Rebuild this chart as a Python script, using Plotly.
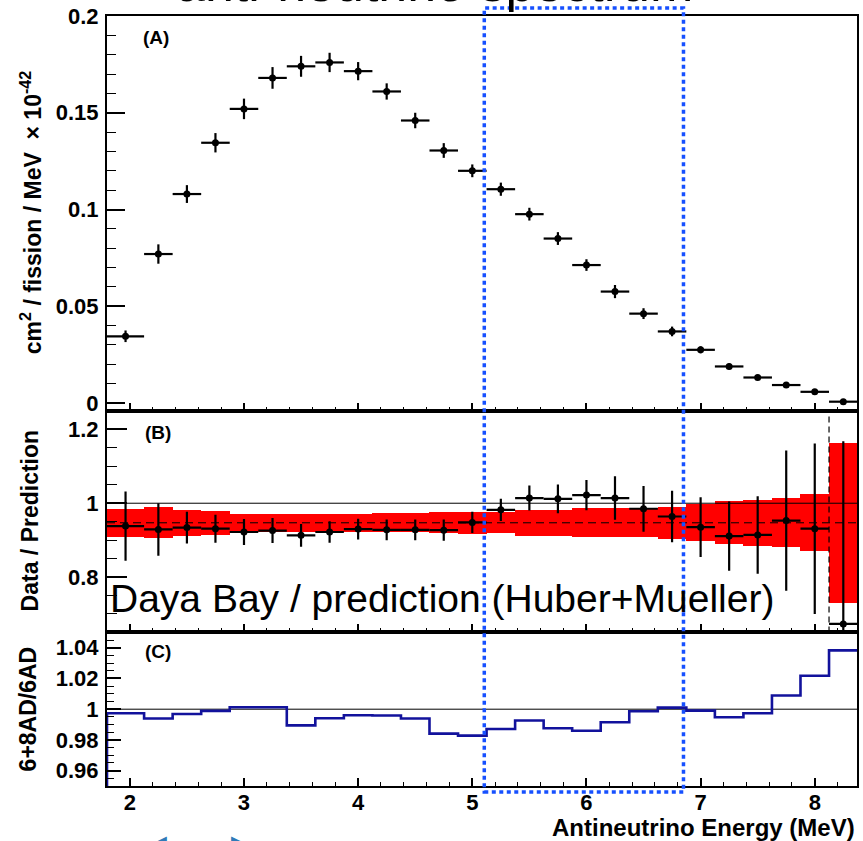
import plotly.graph_objects as go

# ---------------------------------------------------------------- data
# Energy bins (MeV); the last bin is drawn up to the edge of the frame
BIN_EDGES = [1.8, 2.125, 2.375, 2.625, 2.875, 3.125, 3.375, 3.625, 3.875,
             4.125, 4.375, 4.625, 4.875, 5.125, 5.375, 5.625, 5.875, 6.125,
             6.375, 6.625, 6.875, 7.125, 7.375, 7.625, 7.875, 8.125, 8.375]

# (A) IBD yield, cm^2 / fission / MeV x 1e-42
SPECTRUM = [0.0345, 0.077, 0.108, 0.1345, 0.152, 0.168, 0.174, 0.176,
            0.1715, 0.161, 0.146, 0.1305, 0.120, 0.1105, 0.0976, 0.085,
            0.0713, 0.0576, 0.0462, 0.037, 0.0275, 0.0189, 0.0132, 0.0093,
            0.0058, 0.0007]
SPECTRUM_ERR = [0.003, 0.005, 0.0046, 0.005, 0.0053, 0.0056, 0.0054, 0.005,
                0.0047, 0.0042, 0.004, 0.0038, 0.0033, 0.0034, 0.0033, 0.0033,
                0.003, 0.0034, 0.0028, 0.0025, 0.0018, 0.0015, 0.0012, 0.001,
                0.0008, 0.0006]

# (B) data / prediction
RATIO = [0.938, 0.929, 0.934, 0.931, 0.922, 0.926, 0.913, 0.922, 0.930,
         0.928, 0.928, 0.927, 0.948, 0.982, 1.014, 1.012, 1.022, 1.014,
         0.985, 0.964, 0.935, 0.911, 0.914, 0.953, 0.931, 0.673]
RATIO_ERR = [0.094, 0.071, 0.043, 0.038, 0.035, 0.034, 0.031, 0.029, 0.028,
             0.028, 0.028, 0.029, 0.029, 0.030, 0.034, 0.039, 0.041, 0.059,
             0.062, 0.070, 0.081, 0.094, 0.105, 0.190, 0.231, 0.495]
# prediction uncertainty band around the mean ratio
BAND_CENTER = 0.947
BAND_HALF = [0.0387, 0.0417, 0.036, 0.033, 0.0245, 0.0245, 0.0245, 0.0245,
             0.0245, 0.026, 0.026, 0.028, 0.0295, 0.0286, 0.0355, 0.0355,
             0.0395, 0.0395, 0.0395, 0.0436, 0.0505, 0.058, 0.0627, 0.0668,
             0.0773, 0.217]
REFERENCE = 1.0

# (C) 6+8AD / 6AD
AD_RATIO = [0.9974, 0.9939, 0.9969, 0.9989, 1.0013, 1.0013, 0.9895, 0.9941,
            0.9961, 0.9959, 0.9939, 0.9841, 0.9828, 0.9871, 0.9926, 0.9876,
            0.9860, 0.9915, 0.9987, 1.0010, 0.9991, 0.9948, 0.9974, 1.0089,
            1.0218, 1.0383]

# highlighted energy window (MeV)
WINDOW = (5.105, 6.85)

X_RANGE = [1.8, 8.37]
YA_RANGE = [-0.0041, 0.2]
YB_RANGE = [0.65, 1.25]
YC_RANGE = [0.95, 1.05]

# ---------------------------------------------------------------- geometry
W, H = 863, 841
L, R, T, B = 107, 4, 14, 55
PW, PH = W - L - R, H - T - B
Y_AB, Y_BC = 410, 632           # pixel rows of panel boundaries


def py(p):
    """pixel row -> paper y"""
    return (H - B - p) / PH


def px(p):
    """pixel column -> paper x"""
    return (p - L) / PW


def dx(v):
    """energy -> paper x"""
    return (v - X_RANGE[0]) / (X_RANGE[1] - X_RANGE[0])


centers = [(a + b) / 2 for a, b in zip(BIN_EDGES[:-1], BIN_EDGES[1:])]
halfw = [(b - a) / 2 for a, b in zip(BIN_EDGES[:-1], BIN_EDGES[1:])]
widths = [b - a for a, b in zip(BIN_EDGES[:-1], BIN_EDGES[1:])]

FONT = "Liberation Sans"
BLACK = "black"

fig = go.Figure()


def errbar(arr):
    return dict(type="data", array=arr, thickness=2.2, width=0, color=BLACK)


# (A)
fig.add_trace(go.Scatter(
    x=centers, y=SPECTRUM, mode="markers",
    marker=dict(color=BLACK, size=7),
    error_x=errbar(halfw), error_y=errbar(SPECTRUM_ERR),
    xaxis="x", yaxis="y", showlegend=False))

# (B) band, reference lines, points
fig.add_trace(go.Bar(
    x=centers, y=[2 * h for h in BAND_HALF],
    base=[BAND_CENTER - h for h in BAND_HALF], width=widths,
    marker=dict(color="#ff0000", line=dict(width=0)),
    xaxis="x2", yaxis="y2", showlegend=False))
fig.add_trace(go.Scatter(
    x=X_RANGE, y=[REFERENCE, REFERENCE], mode="lines",
    line=dict(color=BLACK, width=1), xaxis="x2", yaxis="y2", showlegend=False))
fig.add_trace(go.Scatter(
    x=X_RANGE, y=[BAND_CENTER, BAND_CENTER], mode="lines",
    line=dict(color=BLACK, width=1, dash="8px,5px"),
    xaxis="x2", yaxis="y2", showlegend=False))
fig.add_trace(go.Scatter(
    x=[BIN_EDGES[-2], BIN_EDGES[-2]], y=YB_RANGE, mode="lines",
    line=dict(color=BLACK, width=1.2, dash="6px,4px"),
    xaxis="x2", yaxis="y2", showlegend=False))
fig.add_trace(go.Scatter(
    x=centers, y=RATIO, mode="markers",
    marker=dict(color=BLACK, size=7),
    error_x=errbar(halfw), error_y=errbar(RATIO_ERR),
    xaxis="x2", yaxis="y2", showlegend=False))

# (C) step histogram drawn up from the frame bottom
step_x = [BIN_EDGES[0]] + BIN_EDGES
step_y = [YC_RANGE[0]] + AD_RATIO + [AD_RATIO[-1]]
fig.add_trace(go.Scatter(
    x=X_RANGE, y=[REFERENCE, REFERENCE], mode="lines",
    line=dict(color=BLACK, width=1), xaxis="x3", yaxis="y3", showlegend=False))
fig.add_trace(go.Scatter(
    x=step_x, y=step_y, mode="lines", line=dict(color="#12129c", width=2.6, shape="hv"),
    xaxis="x3", yaxis="y3", showlegend=False))

tickfont = dict(family=FONT, size=22, color=BLACK, weight="bold")


def xaxis(anchor, labels):
    return dict(domain=[0, 1], range=X_RANGE, anchor=anchor,
                showline=True, mirror=True, linewidth=2, linecolor=BLACK,
                ticks="inside", ticklen=8, tickwidth=1.5, tickcolor=BLACK,
                tick0=0, dtick=1,
                minor=dict(ticks="inside", ticklen=4, tickwidth=1.2,
                           tickcolor=BLACK, dtick=0.2, tick0=0),
                showticklabels=labels, tickfont=tickfont,
                ticklabelstandoff=-4,
                showgrid=False, zeroline=False)


def yaxis(anchor, dom, rng, dtick, mdtick, tl):
    return dict(domain=dom, range=rng, anchor=anchor,
                showline=True, mirror=True, linewidth=2, linecolor=BLACK,
                ticks="inside", ticklen=tl, tickwidth=1.5, tickcolor=BLACK,
                tick0=0, dtick=dtick,
                minor=dict(ticks="inside", ticklen=tl / 2, tickwidth=1.2,
                           tickcolor=BLACK, dtick=mdtick, tick0=0),
                tickfont=tickfont, ticklabelstandoff=2,
                showgrid=False, zeroline=False)


fig.update_layout(
    width=W, height=H,
    margin=dict(l=L, r=R, t=T, b=B, pad=0),
    paper_bgcolor="white", plot_bgcolor="white",
    bargap=0,
    xaxis=xaxis("y", False),
    xaxis2=xaxis("y2", False),
    xaxis3=xaxis("y3", True),
    yaxis=yaxis("x", [py(Y_AB), 1], YA_RANGE, 0.05, 0.01, 18),
    yaxis2=yaxis("x2", [py(Y_BC), py(Y_AB)], YB_RANGE, 0.2, 0.05, 20),
    yaxis3=yaxis("x3", [0, py(Y_BC)], YC_RANGE, 0.02, 0.005, 14),
)

# highlighted window
fig.add_shape(type="rect", xref="paper", yref="paper",
              x0=dx(WINDOW[0]), x1=dx(WINDOW[1]), y0=py(792), y1=py(6),
              line=dict(color="#1650ff", width=3.5, dash="4px,3.5px"),
              fillcolor="rgba(0,0,0,0)", layer="above")

ann = []


def text(t, x, y, size, bold=True, xanchor="center", angle=0, color=BLACK,
         family=FONT):
    ann.append(dict(text=t, x=px(x), y=py(y), xref="paper", yref="paper",
                    xanchor=xanchor, yanchor="middle", showarrow=False,
                    textangle=angle,
                    font=dict(family=family, size=size, color=color,
                              weight="bold" if bold else "normal")))


text("(A)", 141, 35.5, 19, xanchor="left")
text("(B)", 143, 431.5, 19, xanchor="left")
text("(C)", 143, 651.5, 19, xanchor="left")
text("cm<sup>2</sup> / fission / MeV  × 10<sup>-42</sup>", 31, 211.5, 23, angle=-90)
text("Data / Prediction", 30, 520.5, 23, angle=-90)
text("6+8AD/6AD", 28, 709, 23, angle=-90)
text("Antineutrino Energy (MeV)", 859, 828, 24, xanchor="right")
text("Daya Bay / prediction (Huber+Mueller)", 108, 598.2, 39, bold=False,
     xanchor="left")
text("anti-neutrino spectrum", 435, -19.5, 52, bold=False)
text("◀", 160, 842, 18, bold=False, color="#2f7ab8", family="DejaVu Sans")
text("▶", 238, 842, 18, bold=False, color="#2f7ab8", family="DejaVu Sans")

fig.update_layout(annotations=ann)

fig.write_html("out.html")
